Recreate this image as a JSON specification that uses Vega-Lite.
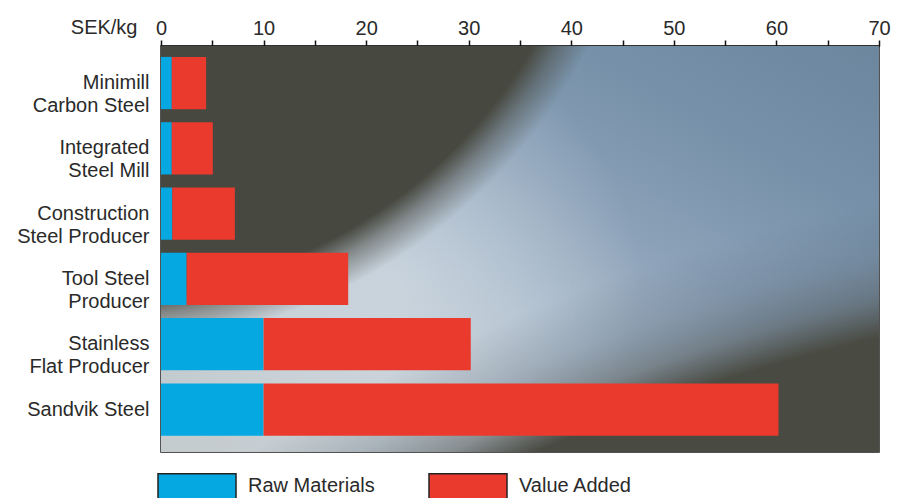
{
  "$schema": "https://vega.github.io/schema/vega-lite/v6.json",
  "width": 718,
  "height": 406,
  "autosize": {"type": "none"},
  "padding": {"left": 161, "top": 46, "right": 28, "bottom": 46},
  "background": "white",
  "config": {
    "font": "Liberation Sans",
    "view": {"stroke": "#1a1a1a", "strokeWidth": 1.5}
  },
  "layer": [
    {
      "data": {"values": [{}]},
      "mark": {
        "type": "rect",
        "fill": {
          "gradient": "linear", "x1": 0, "y1": 1, "x2": 1, "y2": 0,
          "stops": [
            {"offset": 0, "color": "#c5ccce"},
            {"offset": 0.25, "color": "#bfc8cf"},
            {"offset": 0.42, "color": "#a9b9c9"},
            {"offset": 0.6, "color": "#8ba1b8"},
            {"offset": 0.8, "color": "#7590a8"},
            {"offset": 1, "color": "#6b869d"}
          ]
        }
      },
      "encoding": {
        "x": {"value": 0},
        "x2": {"value": "width"},
        "y": {"value": 0},
        "y2": {"value": "height"}
      }
    },
    {
      "data": {"values": [{}]},
      "mark": {
        "type": "rect",
        "fill": {
          "gradient": "radial", "x1": 0.32, "y1": 0.5515, "r1": 0, "x2": 0.32, "y2": 0.5515, "r2": 0.348,
          "stops": [
            {"offset": 0, "color": "rgba(222,230,236,0.55)"},
            {"offset": 0.5, "color": "rgba(222,230,236,0.3)"},
            {"offset": 1, "color": "rgba(222,230,236,0)"}
          ]
        }
      },
      "encoding": {
        "x": {"value": 0},
        "x2": {"value": "width"},
        "y": {"value": 0},
        "y2": {"value": "height"}
      }
    },
    {
      "data": {"values": [{}]},
      "mark": {
        "type": "rect",
        "fill": {
          "gradient": "radial", "x1": -0.0848, "y1": -0.13, "r1": 0, "x2": -0.0848, "y2": -0.13, "r2": 1.0,
          "stops": [
            {"offset": 0, "color": "rgba(71,72,63,1)"},
            {"offset": 0.695, "color": "rgba(71,72,63,1)"},
            {"offset": 0.725, "color": "rgba(71,72,63,0.5)"},
            {"offset": 0.765, "color": "rgba(71,72,63,0)"},
            {"offset": 1, "color": "rgba(71,72,63,0)"}
          ]
        }
      },
      "encoding": {
        "x": {"value": 0},
        "x2": {"value": "width"},
        "y": {"value": 0},
        "y2": {"value": "height"}
      }
    },
    {
      "data": {"values": [{}]},
      "mark": {
        "type": "rect",
        "fill": {
          "gradient": "radial", "x1": 1.594, "y1": 3.196, "r1": 0, "x2": 1.594, "y2": 3.196, "r2": 3.0,
          "stops": [
            {"offset": 0, "color": "rgba(73,74,65,1)"},
            {"offset": 0.88, "color": "rgba(73,74,65,1)"},
            {"offset": 0.897, "color": "rgba(75,80,78,0.5)"},
            {"offset": 0.917, "color": "rgba(85,100,115,0.25)"},
            {"offset": 0.942, "color": "rgba(85,100,115,0)"},
            {"offset": 1, "color": "rgba(85,100,115,0)"}
          ]
        }
      },
      "encoding": {
        "x": {"value": 0},
        "x2": {"value": "width"},
        "y": {"value": 0},
        "y2": {"value": "height"}
      }
    },
    {
      "data": {
        "values": [
          {"producer": "Minimill\nCarbon Steel", "part": "Raw Materials", "value": 1.05},
          {"producer": "Minimill\nCarbon Steel", "part": "Value Added", "value": 3.35},
          {"producer": "Integrated\nSteel Mill", "part": "Raw Materials", "value": 1.05},
          {"producer": "Integrated\nSteel Mill", "part": "Value Added", "value": 4.0},
          {"producer": "Construction\nSteel Producer", "part": "Raw Materials", "value": 1.1},
          {"producer": "Construction\nSteel Producer", "part": "Value Added", "value": 6.1},
          {"producer": "Tool Steel\nProducer", "part": "Raw Materials", "value": 2.5},
          {"producer": "Tool Steel\nProducer", "part": "Value Added", "value": 15.75},
          {"producer": "Stainless\nFlat Producer", "part": "Raw Materials", "value": 10.0},
          {"producer": "Stainless\nFlat Producer", "part": "Value Added", "value": 20.2},
          {"producer": "Sandvik Steel", "part": "Raw Materials", "value": 10.0},
          {"producer": "Sandvik Steel", "part": "Value Added", "value": 50.2}
        ]
      },
      "mark": {"type": "bar", "opacity": 1},
      "encoding": {
        "x": {
          "field": "value", "type": "quantitative", "stack": "zero",
          "scale": {"domain": [0, 70], "nice": false},
          "axis": {
            "orient": "top",
            "values": [0, 5, 10, 15, 20, 25, 30, 35, 40, 45, 50, 55, 60, 65, 70],
            "labelExpr": "datum.value % 10 === 0 ? datum.label : ''",
            "grid": false,
            "domainColor": "#111111", "domainWidth": 2,
            "tickColor": "#111111", "tickWidth": 1.5, "tickSize": 6,
            "labelFontSize": 20, "labelColor": "#2a2a2a", "labelBaseline": "alphabetic",
            "labelPadding": 6, "labelFlush": false, "labelOverlap": false,
            "title": "SEK/kg", "titleFontSize": 20, "titleFontWeight": "normal",
            "titleColor": "#2a2a2a", "titleX": -24, "titleY": -13,
            "titleAlign": "right", "titleBaseline": "alphabetic", "titleAngle": 0
          }
        },
        "y": {
          "field": "producer", "type": "nominal", "sort": null,
          "scale": {"paddingInner": 0.2, "paddingOuter": 0.2085, "align": 0.4},
          "axis": {
            "title": null, "ticks": false, "domain": false,
            "labelFontSize": 20, "labelColor": "#2a2a2a", "labelPadding": 12,
            "labelLineHeight": 23, "labelLimit": 0,
            "labelExpr": "split(datum.label, '\\n')"
          }
        },
        "color": {
          "field": "part", "type": "nominal",
          "scale": {"domain": ["Raw Materials", "Value Added"], "range": ["#05a8e0", "#ea3a2e"]},
          "legend": {
            "orient": "none", "legendX": -4, "legendY": 400,
            "direction": "horizontal", "title": null, "padding": 0,
            "symbolType": "M-1,-0.32H1V0.32H-1Z", "symbolSize": 6084,
            "symbolStrokeColor": "#222222", "symbolStrokeWidth": 1.5, "symbolOpacity": 1,
            "labelFontSize": 20, "labelColor": "#2a2a2a", "labelOffset": 11,
            "columnPadding": 51, "labelLimit": 0
          }
        },
        "order": {"field": "part"}
      }
    }
  ]
}
